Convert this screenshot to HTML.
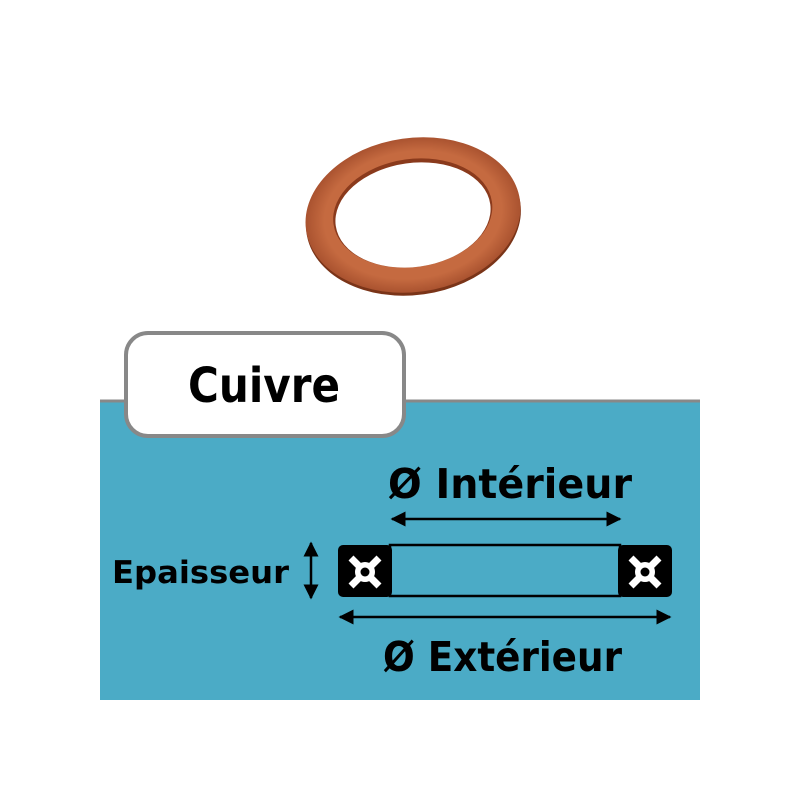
<!DOCTYPE html>
<html><head><style>
body{margin:0;width:800px;height:800px;background:#fff;overflow:hidden}
</style></head><body>
<svg width="800" height="800" viewBox="0 0 800 800" xmlns="http://www.w3.org/2000/svg">
<defs>
<radialGradient id="cu" cx="50%" cy="50%" r="55%">
<stop offset="0.75" stop-color="#c56a40"/><stop offset="1" stop-color="#9a4526"/>
</radialGradient>
<marker id="ah" viewBox="0 0 10 10" refX="9" refY="5" markerWidth="6" markerHeight="6" orient="auto-start-reverse"><path d="M0,0L10,5L0,10z" fill="#000"/></marker>
</defs>
<!-- washer -->
<g transform="rotate(-8 413 215)">
<ellipse cx="413" cy="218" rx="108" ry="77" fill="#7a3418"/>
<ellipse cx="413" cy="215" rx="108" ry="77" fill="url(#cu)"/>
<ellipse cx="413" cy="213" rx="80" ry="54" fill="#8a3a1c"/>
<ellipse cx="413" cy="215" rx="78" ry="52" fill="#fff"/>
</g>
<!-- blue panel -->
<rect x="100" y="400" width="600" height="300" fill="#4babc6"/>
<line x1="100" y1="401" x2="700" y2="401" stroke="#888" stroke-width="3"/>
<!-- label -->
<rect x="126" y="333" width="278" height="103" rx="22" fill="#fff" stroke="#888" stroke-width="4"/>
<text x="188" y="402" textLength="152" lengthAdjust="spacingAndGlyphs" font-family="DejaVu Sans, sans-serif" font-weight="bold" font-size="48">Cuivre</text>
<!-- texts -->
<text x="388" y="498" textLength="244" lengthAdjust="spacingAndGlyphs" font-family="DejaVu Sans, sans-serif" font-weight="bold" font-size="41">Ø Intérieur</text>
<text x="383" y="671" textLength="239" lengthAdjust="spacingAndGlyphs" font-family="DejaVu Sans, sans-serif" font-weight="bold" font-size="41">Ø Extérieur</text>
<text x="112" y="583" textLength="177" lengthAdjust="spacingAndGlyphs" font-family="DejaVu Sans, sans-serif" font-weight="bold" font-size="31">Epaisseur</text>
<!-- arrows -->
<line x1="392" y1="519" x2="620" y2="519" stroke="#000" stroke-width="2.5" marker-start="url(#ah)" marker-end="url(#ah)"/>
<line x1="340" y1="617" x2="670" y2="617" stroke="#000" stroke-width="2.5" marker-start="url(#ah)" marker-end="url(#ah)"/>
<line x1="311" y1="543" x2="311" y2="598" stroke="#000" stroke-width="2.5" marker-start="url(#ah)" marker-end="url(#ah)"/>
<!-- section -->
<rect x="390" y="545" width="230" height="51" fill="none" stroke="#000" stroke-width="2.5"/>
<rect x="338" y="545" width="54" height="52" rx="5" fill="#000"/>
<rect x="618" y="545" width="54" height="52" rx="5" fill="#000"/>
<g stroke="#fff" stroke-width="7">
<line x1="351" y1="558" x2="379" y2="586"/><line x1="379" y1="558" x2="351" y2="586"/>
<line x1="631" y1="558" x2="659" y2="586"/><line x1="659" y1="558" x2="631" y2="586"/>
</g>
<circle cx="365" cy="572" r="10" fill="#fff"/><circle cx="365" cy="572" r="4.5" fill="#000"/>
<circle cx="645" cy="572" r="10" fill="#fff"/><circle cx="645" cy="572" r="4.5" fill="#000"/>
</svg>
</body></html>
